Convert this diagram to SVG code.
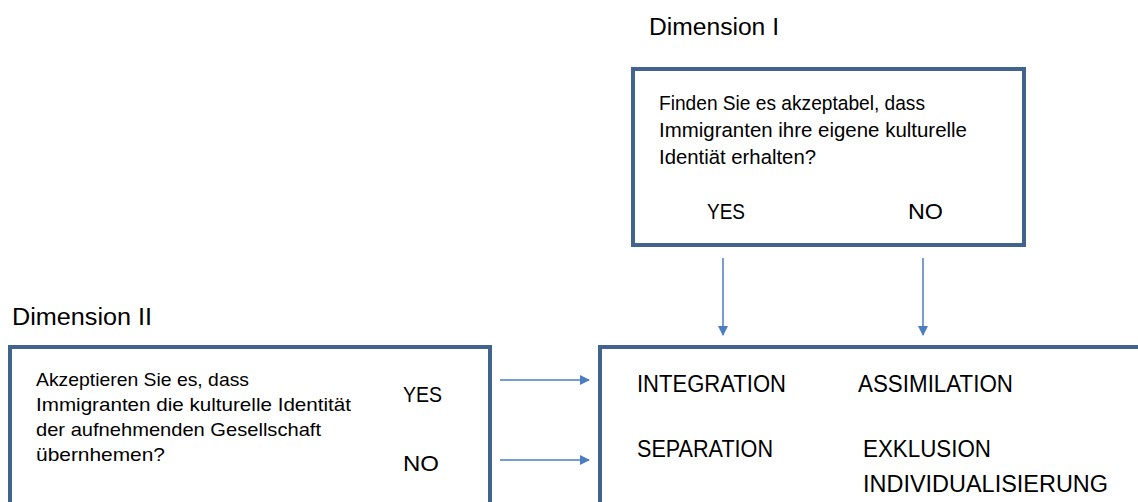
<svg xmlns="http://www.w3.org/2000/svg" width="1138" height="502" viewBox="0 0 1138 502">
<style>
.box{fill:#fff;stroke:#41648F;stroke-width:4}
.t{font-family:"Liberation Sans",Arial,sans-serif;fill:#000}
.conn line{stroke:#4A7EC0;stroke-width:1.5}
</style>
<defs>
<marker id="ah" markerWidth="10" markerHeight="10" refX="9" refY="5" orient="auto" markerUnits="userSpaceOnUse">
<path d="M0,0 L10,5 L0,10 Z" fill="#4A7EC0"/>
</marker>
</defs>
<rect width="1138" height="502" fill="#fff"/>
<text class="t" x="649" y="35" font-size="23.5" textLength="130" lengthAdjust="spacingAndGlyphs">Dimension I</text>
<text class="t" x="12" y="325" font-size="23.5" textLength="140" lengthAdjust="spacingAndGlyphs">Dimension II</text>
<g id="dim1">
<rect class="box" x="633" y="69" width="391" height="176"/>
<text class="t" x="659" y="110" font-size="20.5" textLength="266" lengthAdjust="spacingAndGlyphs">Finden Sie es akzeptabel, dass</text>
<text class="t" x="659" y="137" font-size="20.5" textLength="308" lengthAdjust="spacingAndGlyphs">Immigranten ihre eigene kulturelle</text>
<text class="t" x="659" y="164" font-size="20.5" textLength="157" lengthAdjust="spacingAndGlyphs">Identiät erhalten?</text>
<text class="t" x="707" y="219" font-size="22" textLength="38" lengthAdjust="spacingAndGlyphs">YES</text>
<text class="t" x="908" y="219" font-size="22" textLength="35" lengthAdjust="spacingAndGlyphs">NO</text>
</g>
<g id="dim2">
<rect class="box" x="10" y="347" width="480" height="170"/>
<text class="t" x="36" y="386" font-size="18.5" textLength="213" lengthAdjust="spacingAndGlyphs">Akzeptieren Sie es, dass</text>
<text class="t" x="36" y="411" font-size="18.5" textLength="315" lengthAdjust="spacingAndGlyphs">Immigranten die kulturelle Identität</text>
<text class="t" x="36" y="436" font-size="18.5" textLength="285" lengthAdjust="spacingAndGlyphs">der aufnehmenden Gesellschaft</text>
<text class="t" x="36" y="461" font-size="18.5" textLength="129" lengthAdjust="spacingAndGlyphs">übernhemen?</text>
<text class="t" x="403" y="402" font-size="22" textLength="39" lengthAdjust="spacingAndGlyphs">YES</text>
<text class="t" x="403" y="471" font-size="22" textLength="36" lengthAdjust="spacingAndGlyphs">NO</text>
</g>
<g id="result">
<rect class="box" x="600" y="347" width="560" height="170"/>
<text class="t" x="637" y="392" font-size="23" textLength="149" lengthAdjust="spacingAndGlyphs">INTEGRATION</text>
<text class="t" x="858" y="392" font-size="23" textLength="155" lengthAdjust="spacingAndGlyphs">ASSIMILATION</text>
<text class="t" x="637" y="457" font-size="23" textLength="136" lengthAdjust="spacingAndGlyphs">SEPARATION</text>
<text class="t" x="863" y="457" font-size="23" textLength="128" lengthAdjust="spacingAndGlyphs">EXKLUSION</text>
<text class="t" x="863" y="492" font-size="23" textLength="245" lengthAdjust="spacingAndGlyphs">INDIVIDUALISIERUNG</text>
</g>
<g class="conn" id="connectors">
<line x1="723" y1="258" x2="723" y2="335" marker-end="url(#ah)"/>
<line x1="923" y1="258" x2="923" y2="335" marker-end="url(#ah)"/>
<line x1="500" y1="380" x2="589" y2="380" marker-end="url(#ah)"/>
<line x1="500" y1="460" x2="589" y2="460" marker-end="url(#ah)"/>
</g>
</svg>
